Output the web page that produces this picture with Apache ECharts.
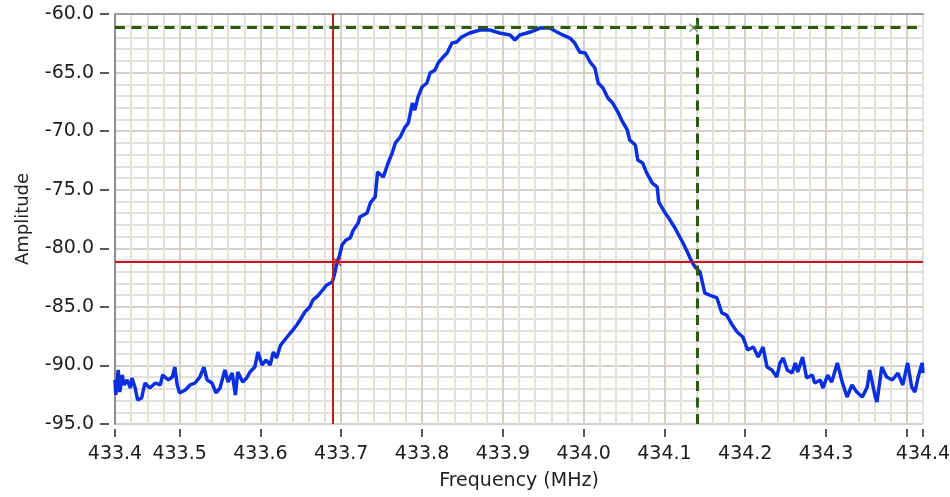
<!DOCTYPE html>
<html><head><meta charset="utf-8">
<script src="https://cdn.jsdelivr.net/npm/echarts@6/dist/echarts.min.js"></script>
<style>html,body{margin:0;padding:0;background:#fff}#c{width:950px;height:497px}</style>
</head><body><div id="c"></div>
<script>
const freqMHz = [
433.420,433.421,433.424,433.426,433.429,433.431,433.435,433.439,433.441,433.445,
433.448,433.453,433.457,433.463,433.470,433.476,433.479,433.486,433.491,433.494,
433.497,433.500,433.507,433.513,433.519,433.525,433.530,433.534,433.540,433.545,
433.550,433.556,433.560,433.565,433.569,433.572,433.578,433.583,433.587,433.593,
433.597,433.602,433.607,433.612,433.616,433.620,433.625,433.630,433.635,433.640,
433.645,433.649,433.655,433.661,433.665,433.671,433.677,433.682,433.689,433.692,
433.695,433.698,433.701,433.706,433.711,433.715,433.721,433.723,433.732,433.736,
433.742,433.745,433.752,433.758,433.763,433.767,433.773,433.779,433.783,433.788,
433.791,433.795,433.800,433.806,433.810,433.816,433.820,433.825,433.831,433.837,
433.843,433.849,433.859,433.872,433.884,433.896,433.909,433.915,433.921,433.934,
433.946,433.958,433.967,433.974,433.983,433.989,433.995,434.002,434.008,434.014,
434.018,434.024,434.030,434.036,434.043,434.047,434.054,434.057,434.064,434.067,
434.073,434.078,434.085,434.091,434.093,434.101,434.107,434.113,434.119,434.123,
434.129,434.134,434.138,434.144,434.150,434.156,434.165,434.171,434.177,434.184,
434.190,434.197,434.203,434.210,434.216,434.222,434.227,434.233,434.239,434.243,
434.247,434.252,434.258,434.262,434.265,434.271,434.276,434.283,434.286,434.293,
434.296,434.302,434.307,434.314,434.320,434.326,434.332,434.338,434.345,434.351,
434.354,434.361,434.363,434.369,434.375,434.382,434.389,434.395,434.401,434.406,
434.410,434.414,434.419,434.420];
const ampDb = [
-91.24,-92.52,-90.39,-92.27,-90.82,-91.67,-91.24,-91.93,-91.07,-91.93,
-92.95,-92.78,-91.50,-91.93,-91.50,-91.67,-90.82,-91.24,-90.99,-90.14,
-91.67,-92.35,-92.10,-91.67,-91.50,-90.99,-90.14,-91.24,-91.50,-92.35,
-91.93,-90.39,-91.42,-90.65,-92.52,-90.56,-91.42,-91.07,-90.56,-90.14,
-88.85,-89.96,-89.54,-89.96,-88.85,-89.37,-88.26,-87.83,-87.40,-86.98,
-86.55,-86.12,-85.44,-85.01,-84.41,-84.07,-83.56,-83.13,-82.88,-82.11,
-81.17,-80.57,-79.72,-79.29,-79.12,-78.44,-77.84,-77.33,-76.99,-76.13,
-75.62,-73.49,-73.92,-72.72,-71.87,-71.01,-70.50,-69.65,-69.31,-67.60,
-68.20,-67.09,-66.23,-65.89,-65.04,-64.78,-64.18,-63.76,-63.33,-62.48,
-62.39,-61.96,-61.62,-61.37,-61.37,-61.62,-61.79,-62.22,-61.79,-61.54,
-61.20,-61.20,-61.54,-61.79,-62.05,-62.48,-63.24,-63.33,-64.10,-64.61,
-65.89,-66.32,-67.17,-67.60,-68.45,-69.05,-69.90,-70.76,-71.18,-72.46,
-72.72,-73.57,-74.43,-74.77,-76.05,-76.99,-77.59,-78.27,-79.04,-79.55,
-80.40,-81.17,-81.60,-82.02,-83.82,-83.99,-84.24,-85.52,-85.70,-86.55,
-87.15,-87.57,-88.68,-88.43,-89.28,-88.43,-90.14,-90.39,-90.99,-89.79,
-89.37,-90.39,-90.65,-89.79,-90.56,-89.28,-91.07,-90.82,-91.50,-91.24,
-91.93,-90.82,-91.42,-89.79,-91.42,-92.70,-91.67,-92.27,-92.70,-91.84,
-90.39,-92.70,-93.12,-90.14,-90.99,-91.24,-90.65,-91.67,-89.79,-91.84,
-92.27,-90.99,-89.79,-90.65];
const xRange = [433.42, 434.42];
const yRange = [-95, -60];
const yStep = 5;
const cursorRed = [433.695, -81.16];
const cursorGreen = [434.136, -61.17];

const FONT = '"DejaVu Sans", Verdana, sans-serif';
const minorColor = '#e4e0da', majorColor = '#d4d0c8';
const chart = echarts.init(document.getElementById('c'), null, {renderer: 'canvas'});
const spectrum = freqMHz.map((f, i) => [f, ampDb[i]]);
const xFmt = v => (Math.abs(v - 434.4) < 1e-6 ? '' : v.toFixed(1));

const baseX = {type: 'value', min: xRange[0], max: xRange[1], splitNumber: 10, gridIndex: 0};
const baseY = {type: 'value', min: yRange[0], max: yRange[1], interval: yStep, gridIndex: 0};

chart.setOption({
  animation: false,
  backgroundColor: '#fff',
  grid: {left: 115, right: 27, top: 14, bottom: 73, outerBoundsMode: 'none', containLabel: false,
    show: true, borderColor: '#dcd8d0', borderWidth: 1, backgroundColor: '#fff'},
  xAxis: [
    Object.assign({}, baseX, {position: 'bottom',
      axisLine: {show: false}, axisTick: {show: false}, axisLabel: {show: false},
      splitLine: {show: true, lineStyle: {color: majorColor, width: 2}},
      minorTick: {show: false, splitNumber: 5},
      minorSplitLine: {show: true, lineStyle: {color: minorColor, width: 2}}}),
    Object.assign({}, baseX, {position: 'bottom', offset: 5,
      axisLine: {show: false},
      axisTick: {show: true, length: 8, lineStyle: {color: '#222', width: 1.5}},
      axisLabel: {show: true, margin: 16, fontSize: 19, fontFamily: FONT, color: '#1c1c1c', formatter: xFmt},
      splitLine: {show: false},
      name: 'Frequency (MHz)', nameLocation: 'middle', nameGap: 43,
      nameTextStyle: {fontSize: 19, fontFamily: FONT, color: '#222'}}),
    Object.assign({}, baseX, {position: 'top',
      axisLine: {show: true, lineStyle: {color: '#9c9c9c', width: 2}},
      axisTick: {show: false}, axisLabel: {show: false}, splitLine: {show: false}})
  ],
  yAxis: [
    Object.assign({}, baseY, {position: 'left',
      axisLine: {show: true, lineStyle: {color: '#8c8c8c', width: 2}},
      axisTick: {show: false}, axisLabel: {show: false},
      splitLine: {show: true, lineStyle: {color: majorColor, width: 2}},
      minorTick: {show: false, splitNumber: 5},
      minorSplitLine: {show: true, lineStyle: {color: minorColor, width: 2}}}),
    Object.assign({}, baseY, {position: 'left', offset: 6,
      axisLine: {show: false},
      axisTick: {show: true, length: 9, lineStyle: {color: '#222', width: 1.5}},
      axisLabel: {show: true, margin: 15, fontSize: 19, fontFamily: FONT, color: '#1c1c1c', formatter: v => v.toFixed(1)},
      splitLine: {show: false},
      name: 'Amplitude', nameLocation: 'middle', nameGap: 77,
      nameTextStyle: {fontSize: 18, fontFamily: FONT, color: '#222'}})
  ],
  series: [
    {type: 'line', xAxisIndex: 0, yAxisIndex: 0, data: [], z: 2, silent: true,
      markLine: {silent: true, symbol: ['none', 'none'], label: {show: false},
        lineStyle: {color: '#c8161d', width: 2, type: 'solid'},
        data: [{xAxis: cursorRed[0]}, {yAxis: cursorRed[1]}]}},
    {type: 'line', xAxisIndex: 0, yAxisIndex: 0, data: spectrum, z: 3, showSymbol: false,
      lineStyle: {color: '#0a2fdc', width: 3.5}, itemStyle: {color: '#0a2fdc'}},
    {type: 'line', xAxisIndex: 0, yAxisIndex: 0, data: [], z: 4, silent: true,
      markLine: {silent: true, symbol: ['none', 'none'], label: {show: false},
        lineStyle: {color: '#2b5a0c', width: 3, type: [10, 6.5]},
        data: [{xAxis: cursorGreen[0]}, {yAxis: cursorGreen[1]}]}},
    {type: 'scatter', xAxisIndex: 0, yAxisIndex: 0, z: 5, silent: true,
      symbol: 'path://M0,0L10,10M10,0L0,10', symbolSize: 8,
      itemStyle: {color: 'transparent', borderColor: '#c8161d', borderWidth: 1.5},
      data: [cursorRed]},
    {type: 'scatter', xAxisIndex: 0, yAxisIndex: 0, z: 5, silent: true,
      symbol: 'path://M0,0L10,10M10,0L0,10', symbolSize: 8,
      itemStyle: {color: 'transparent', borderColor: '#6d8a5a', borderWidth: 1.5},
      data: [cursorGreen]}
  ]
});
</script></body></html>
